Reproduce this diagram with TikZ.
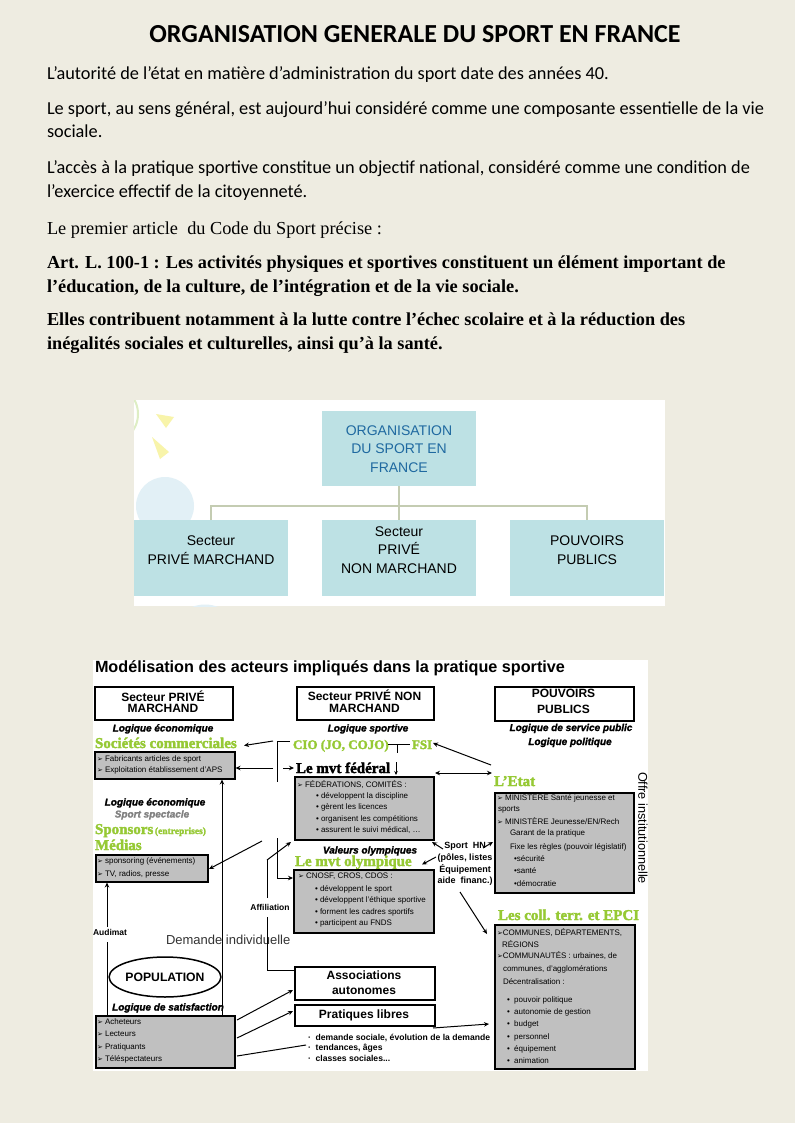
\documentclass[tikz,border=0pt]{standalone}
\usepackage{fontspec}
\setmainfont{Liberation Sans}[BoldItalicFeatures={FakeBold=1.6}]
\newfontfamily\carlito{Carlito}
\newfontfamily\tnr{Liberation Serif}
\newfontfamily\heavy{Liberation Serif}[BoldFeatures={FakeBold=2.2}]
\newfontfamily\dvs{DejaVu Sans}
\usetikzlibrary{arrows.meta,shapes.geometric}
\definecolor{pagebg}{RGB}{238,236,225}
\definecolor{cyanbox}{RGB}{189,225,228}
\definecolor{blueT}{RGB}{31,105,160}
\definecolor{connC}{RGB}{196,204,178}
\definecolor{boxgray}{RGB}{192,192,192}
\definecolor{grnT}{RGB}{150,201,52}
\definecolor{decoblue}{RGB}{226,240,246}
\definecolor{decoyel}{RGB}{248,244,170}
\definecolor{decogrn}{RGB}{222,238,196}
\newcommand{\fsz}[2]{\fontsize{#1}{#2}\selectfont}
\newcommand{\myarw}{{\dvs\fsz{7}{8}➢}}
\begin{document}
\begin{tikzpicture}[x=1pt,y=-1pt,
  t/.style={inner sep=0pt,outer sep=0pt,anchor=base west},
  tc/.style={inner sep=0pt,outer sep=0pt,anchor=base},
  para/.style={t,font=\carlito\fsz{18.3}{22}},
  lawtxt/.style={t,font=\tnr\fsz{18.3}{22}},
  lawbold/.style={t,font=\tnr\bfseries\fsz{18.3}{22}},
  cbox/.style={fill=cyanbox,inner sep=0pt,anchor=north west,minimum width=154pt,minimum height=76pt},
  ctext/.style={inner sep=0pt,align=center,font=\fsz{14}{18.7}},
  conn/.style={draw=connC,line width=2.2pt},
  gbox/.style={draw=black,line width=1.5pt,fill=boxgray,inner sep=0pt,anchor=north west},
  wbox/.style={draw=black,line width=1.5pt,fill=white,inner sep=0pt,anchor=north west},
  li/.style={t,font=\fsz{8}{9}},
  hd/.style={tc,font=\bfseries\fsz{12}{12}},
  lg/.style={tc,font=\bfseries\itshape\fsz{10}{10}},
  grn/.style={t,text=grnT,font=\heavy\bfseries\fsz{15}{15}},
  bl/.style={t,font=\bfseries\fsz{8.6}{9}},
  ln/.style={line width=1pt},
  arr/.style={line width=1pt,-{Stealth[length=5pt,width=4.5pt]}},
  darr/.style={line width=1pt,{Stealth[length=5pt,width=4.5pt]}-{Stealth[length=5pt,width=4.5pt]}}
]
\useasboundingbox (0,0) rectangle (795,1123);
\fill[pagebg] (0,0) rectangle (795,1123);

% ---------- header text ----------
\node[tc,font=\carlito\bfseries\fsz{26}{30}] (title) at (415,42.5) {ORGANISATION GENERALE DU SPORT EN FRANCE};
\node[para] (p1) at (47,80) {L’autorité de l’état en matière d’administration du sport date des années 40.};
\node[para] (p2) at (47,115) {Le sport, au sens général, est aujourd’hui considéré comme une composante essentielle de la vie};
\node[para] (p3) at (47,138) {sociale.};
\node[para] (p4) at (47,174) {L’accès à la pratique sportive constitue un objectif national, considéré comme une condition de};
\node[para] (p5) at (47,198) {l’exercice effectif de la citoyenneté.};
\node[lawtxt] (p6) at (47,234) {Le premier article\ \ du Code du Sport précise :};
\node[lawbold] (p7) at (47,268) {Art. L. 100-1 : Les activités physiques et sportives constituent un élément important de};
\node[lawbold] (p8) at (47,292) {l’éducation, de la culture, de l’intégration et de la vie sociale.};
\node[lawbold] (p9) at (47,325) {Elles contribuent notamment à la lutte contre l’échec scolaire et à la réduction des};
\node[lawbold] (p10) at (47,349) {inégalités sociales et culturelles, ainsi qu’à la santé.};

% ---------- org chart panel ----------
\fill[white] (134,400) rectangle (665,606);
\begin{scope}
  \clip (134,400) rectangle (665,606);
  \draw[decogrn,line width=2pt] (108,414) circle (30);
  \fill[decoyel] (156,414) -- (174,417) -- (166,428) -- cycle;
  \fill[decoyel] (152,437) -- (169,452) -- (160,459) -- cycle;
  \fill[decoblue] (165,506) circle (29);
  \draw[decoblue,line width=3pt] (205,640) circle (34);
\end{scope}
\node[cbox,minimum width=154pt,minimum height=75pt] (otop) at (322,411) {};
\node[cbox] (oleft) at (134,520) {};
\node[cbox] (omid) at (322,520) {};
\node[cbox] (oright) at (510,520) {};
\coordinate (hl) at (399,506);
\draw[conn] (otop.south) -- (omid.north);
\draw[conn] (oleft.north) -- (oleft.north |- hl) -- (oright.north |- hl) -- (oright.north);
\node[ctext,text=blueT] (otopt) at (399,449) {ORGANISATION\\DU SPORT EN\\FRANCE};
\node[ctext] (oleftt) at (211,550) {Secteur\\PRIVÉ MARCHAND};
\node[ctext] (omidt) at (399,550) {Secteur\\PRIVÉ\\NON MARCHAND};
\node[ctext] (orightt) at (587,550) {POUVOIRS\\PUBLICS};

% ---------- model panel ----------
\fill[white] (93,660) rectangle (648,1071);
\node[t,font=\bfseries\fsz{16.2}{16}] (mtitle) at (95,672.5) {Modélisation des acteurs impliqués dans la pratique sportive};

% header boxes
\node[wbox,minimum width=138pt,minimum height=33pt] (hA) at (94,686) {};
\node[wbox,minimum width=137pt,minimum height=33pt] (hB) at (296,686) {};
\node[wbox,minimum width=139pt,minimum height=34pt] (hC) at (494,686) {};
\node[hd] (hA1) at (163,701.3) {Secteur PRIVÉ};
\node[hd] (hA2) at (163,712.5) {MARCHAND};
\node[hd] (hB1) at (364.5,700) {Secteur PRIVÉ NON};
\node[hd] (hB2) at (364.5,712.5) {MARCHAND};
\node[hd] (hC1) at (563.5,697.5) {POUVOIRS};
\node[hd] (hC2) at (563.5,713) {PUBLICS};

\node[lg] (lgA) at (163,731.5) {Logique économique};
\node[lg] (lgB) at (368,731.5) {Logique sportive};
\node[lg] (lgC1) at (571,731) {Logique de service public};
\node[lg] (lgC2) at (570,745) {Logique politique};

% left column
\node[grn] (soc) at (95,748) {Sociétés commerciales};
\node[gbox,minimum width=140pt,minimum height=27pt] (socbox) at (94,751) {};
\foreach \s [count=\i] in {{\myarw\ Fabricants articles de sport},{\myarw\ Exploitation établissement d’APS}}
  \node[li] (soct\i) at (97,{761.5+(\i-1)*11}) {\s};

\node[lg] (lgA2) at (155,805.5) {Logique économique};
\node[lg,text=black!50] (spect) at (152,817.5) {Sport spectacle};
\node[grn] (spons) at (95,834) {Sponsors};
\node[t,text=grnT,font=\heavy\bfseries\fsz{9.5}{10},anchor=base west] (entr) at (spons.base east) {\,(entreprises)};
\node[grn] (medias) at (95,850) {Médias};
\node[gbox,minimum width=112pt,minimum height=27pt] (spobox) at (95,854) {};
\foreach \s [count=\i] in {{\myarw\ sponsoring (événements)},{\myarw\ TV, radios, presse}}
  \node[li] (spot\i) at (97,{863.5+(\i-1)*12.5}) {\s};

\node[tc,font=\bfseries\fsz{8.5}{9}] (audimat) at (110,935) {Audimat};
\node[t,font=\fsz{13}{13},text=black!80] (demande) at (166,944.5) {Demande individuelle};
\node[draw,ellipse,line width=1.5pt,minimum width=106pt,minimum height=40pt,inner sep=0pt,font=\bfseries\fsz{12.2}{12}] (pop) at (165,977) {POPULATION};
\node[lg] (lgsat) at (168,1010.5) {Logique de satisfaction};
\node[gbox,minimum width=139pt,minimum height=52pt] (achbox) at (95,1015) {};
\foreach \s [count=\i] in {{\myarw\ Acheteurs},{\myarw\ Lecteurs},{\myarw\ Pratiquants},{\myarw\ Téléspectateurs}}
  \node[li] (acht\i) at (97,{1024+(\i-1)*12.5}) {\s};

% middle column
\node[grn,font=\heavy\bfseries\fsz{13}{13}] (cio) at (293,749) {CIO (JO, COJO)};
\node[grn,font=\heavy\bfseries\fsz{13}{13}] (fsi) at (412,749) {FSI};
\node[grn,text=black] (fed) at (296,773) {Le mvt fédéral};
\node[gbox,minimum width=139pt,minimum height=63pt] (fedbox) at (294,776) {};
\node[li] (fedt0) at (297,787.5) {\myarw\ FÉDÉRATIONS, COMITÉS :};
\foreach \s [count=\i] in {{• développent la discipline},{• gèrent les licences},{• organisent les compétitions},{• assurent le suivi médical, …}}
  \node[li] (fedt\i) at (316,{798.5+(\i-1)*11.3}) {\s};

\node[lg] (valol) at (370,853.5) {Valeurs olympiques};
\node[grn] (olym) at (295,866) {Le mvt olympique};
\node[gbox,minimum width=140pt,minimum height=63pt] (cnobox) at (293,869) {};
\node[li] (cnot0) at (298,878) {\myarw\ CNOSF, CROS, CDOS :};
\foreach \s [count=\i] in {{• développent le sport},{• développent l’éthique sportive},{• forment les cadres sportifs},{• participent au FNDS}}
  \node[li] (cnot\i) at (315,{891+(\i-1)*11.5}) {\s};

\node[tc,font=\bfseries\fsz{8.5}{9}] (affil) at (270,910) {Affiliation};
\node[wbox,minimum width=140pt,minimum height=33pt] (assbox) at (294,966) {};
\node[hd] (ass1) at (364,979) {Associations};
\node[hd] (ass2) at (364,994) {autonomes};
\node[wbox,minimum width=140pt,minimum height=21pt] (prabox) at (294,1004) {};
\node[hd] (pra) at (364,1018) {Pratiques libres};
\node[bl] (dem1) at (308,1040.5) {·\ \ demande sociale, évolution de la demande};
\node[bl] (dem2) at (308,1050.5) {·\ \ tendances, âges};
\node[bl] (dem3) at (308,1061) {·\ \ classes sociales...};

% right column
\node[grn] (etat) at (494,786) {L’Etat};
\node[gbox,minimum width=139pt,minimum height=100pt] (minbox) at (494,792) {};
\node[li] (mint1) at (497,800.5) {\myarw\ MINISTÈRE Santé jeunesse et};
\node[li] (mint2) at (498,811.5) {sports};
\node[li] (mint3) at (497,824.5) {\myarw\ MINISTÈRE Jeunesse/EN/Rech};
\node[li] (mint4) at (510,835.5) {Garant de la pratique};
\node[li] (mint5) at (510,849.5) {Fixe les règles (pouvoir législatif)};
\node[li] (mint6) at (514,861.5) {•sécurité};
\node[li] (mint7) at (514,873.5) {•santé};
\node[li] (mint8) at (514,886.5) {•démocratie};
\node[rotate=-90,inner sep=0pt,font=\fsz{12.7}{13}] (offre) at (643,828) {Offre institutionnelle};

\node[inner sep=0pt,align=center,font=\bfseries\fsz{9}{11.7}] (hn) at (465,864) {Sport\ \ HN\\(pôles,\ listes\\Équipement\\aide\ \ financ.)};

\node[grn] (coll) at (498,920) {Les coll. terr. et EPCI};
\node[gbox,minimum width=140pt,minimum height=144pt] (combox) at (494,924) {};
\node[li] (comt1) at (497,935.5) {{\dvs\fsz{7}{8}➢}COMMUNES, DÉPARTEMENTS,};
\node[li] (comt2) at (502,947.5) {RÉGIONS};
\node[li] (comt3) at (497,958.5) {{\dvs\fsz{7}{8}➢}COMMUNAUTÉS : urbaines, de};
\node[li] (comt4) at (503,971.5) {communes, d’agglomérations};
\node[li] (comt5) at (503,984.5) {Décentralisation :};
\foreach \s [count=\i] in {{pouvoir politique},{autonomie de gestion},{budget},{personnel},{équipement},{animation}}
  \node[li] (comb\i) at (507,{1002.5+(\i-1)*12.2}) {•\ \ \s};

% ---------- connectors ----------
\coordinate (cioR) at (388,744);
\coordinate (fsiL) at (410,744);
\coordinate (tick) at (397,744);
\draw[ln] (cioR) -- (fsiL);
\draw[ln] (tick) -- ++(0,9);
\coordinate (brT) at (290,741);
\coordinate (brC) at (277,741);
\coordinate (brB) at (277,782);
\draw[ln] (brT) -- (brC) -- (brB);
\coordinate (a1s) at (273,741);
\coordinate (a1e) at (244,745.5);
\draw[arr] (a1s) -- (a1e);
\coordinate (a2s) at (273,768);
\draw[arr] (a2s) -- (socbox.east |- a2s);
\coordinate (a3s) at (283,768);
\draw[arr] (a3s) -- (fedbox.west |- a3s);
\coordinate (dnS) at (396,762);
\coordinate (dnE) at (396,775);
\draw[line width=1pt,-{Stealth[length=4pt,width=3.5pt]}] (dnS) -- (dnE);
\coordinate (etL) at (492,773);
\coordinate (fedR) at (435,773);
\draw[darr] (fedR) -- (etL);
\coordinate (etU) at (491,765);
\coordinate (fsiR) at (433,743);
\draw[arr] (etU) -- (fsiR);

\coordinate (spS) at (262,841);
\coordinate (spE) at (209,869);
\draw[arr] (spS) -- (spE);
\coordinate (lbT) at (277,838);
\coordinate (lbB) at (277,878);
\draw[ln] (lbT) -- (lbB);
\draw[arr] (lbB) -- (cnobox.west |- lbB);
\coordinate (afA) at (267,970);
\coordinate (afB) at (267,917);
\coordinate (afC) at (267,898);
\coordinate (afD) at (267,860);
\coordinate (afE) at (291,842);
\draw[ln] (assbox.west |- afA) -- (afA) -- (afB);
\draw[ln] (afC) -- (afD);
\draw[arr] (afD) -- (afE);

\coordinate (auT) at (107,927);
\coordinate (auB) at (107,942);
\draw[arr] (auT) -- (spobox.south -| auT);
\draw[ln] (auB) -- (achbox.north -| auB);
\coordinate (dmB) at (222,1015);
\draw[arr] (dmB) -- (socbox.south -| dmB);

\coordinate (ac1) at (237,1020);
\coordinate (ac1e) at (293,990);
\coordinate (ac2) at (237,1038);
\coordinate (ac2e) at (293,1011);
\coordinate (ac3) at (237,1056);
\coordinate (ac3e) at (306,1045);
\draw[arr] (ac1) -- (ac1e);
\draw[arr] (ac2) -- (ac2e);
\draw[ln] (ac3) -- (ac3e);
\coordinate (plS) at (433,1028);
\coordinate (plE) at (489,1024);
\draw[arr] (plS) -- (plE);

\coordinate (hn1s) at (443,849);
\coordinate (hn1e) at (432,842);
\coordinate (hn2s) at (483,848);
\coordinate (hn2e) at (493,842);
\coordinate (hn3s) at (436,857);
\coordinate (hn3e) at (422,864.5);
\coordinate (hn4s) at (460,892);
\coordinate (hn4e) at (487,934);
\draw[arr] (hn1s) -- (hn1e);
\draw[arr] (hn2s) -- (hn2e);
\draw[arr] (hn3s) -- (hn3e);
\draw[arr] (hn4s) -- (hn4e);
\end{tikzpicture}
\end{document}
